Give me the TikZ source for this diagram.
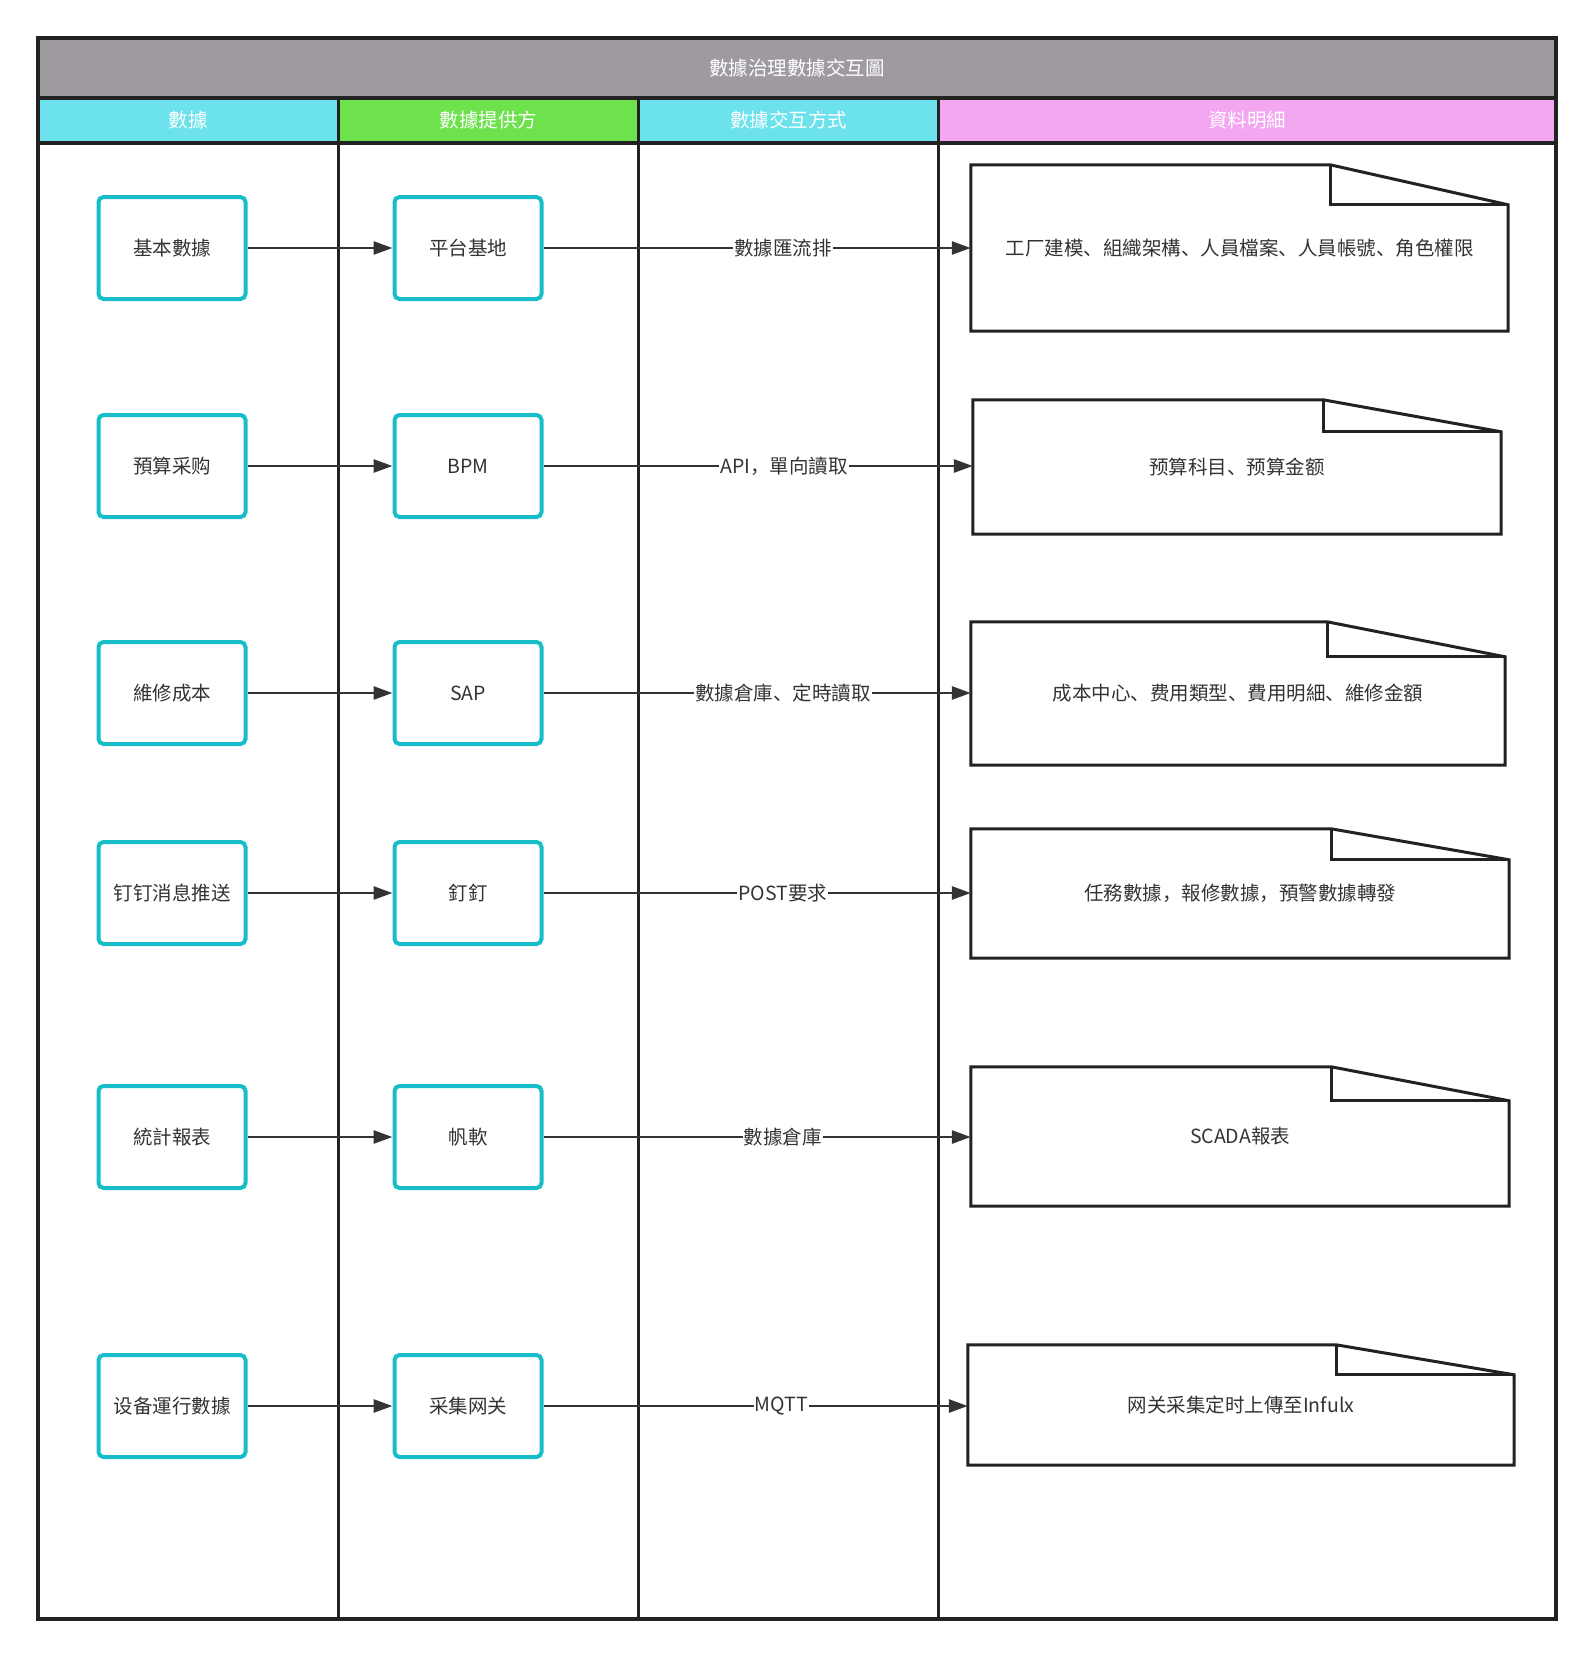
\documentclass[tikz,border=0pt]{standalone}
\usepackage{fontspec}
\setmainfont{Noto Sans CJK SC}
\usetikzlibrary{arrows.meta, calc}
\definecolor{laneTitle}{RGB}{158,154,160}
\definecolor{laneCyan}{RGB}{108,226,236}
\definecolor{laneGreen}{RGB}{109,226,77}
\definecolor{lanePink}{RGB}{242,167,240}
\definecolor{boxCyan}{RGB}{23,189,201}
\definecolor{inkD}{RGB}{51,51,51}
\definecolor{frameD}{RGB}{34,34,34}
\newcommand{\lanefont}{\fontsize{19.5}{23}\selectfont}
\tikzset{databox/.style={draw=boxCyan, line width=4pt, rounded corners=5pt, fill=white,
    minimum width=147, minimum height=102, text=inkD, font=\lanefont},
  docnote/.style={minimum width=#1, inner sep=0pt, text=inkD, font=\lanefont},
  docline/.style={draw=frameD, line width=3pt, line join=miter},
  flow/.style={draw=inkD, line width=2.8pt, -{Triangle[length=19pt, width=13pt]}},
  linklabel/.style={fill=white, inner sep=1pt, text=inkD, font=\lanefont},
  hdrtext/.style={text=white, font=\lanefont}}

\begin{document}
\begin{tikzpicture}[x=1pt, y=-1pt]
\useasboundingbox (0,0) rectangle (1594,1657);
% title band and lane headers
\fill[laneTitle] (38,38) rectangle (1556,98);
\node[hdrtext] (title) at (797,68) {數據治理數據交互圖};
\foreach \xa/\xb/\col/\txt/\nm in {38/338/laneCyan/數據/hA, 338/638.5/laneGreen/數據提供方/hB,
    638.5/938.6/laneCyan/數據交互方式/hC, 938.6/1556/lanePink/資料明細/hD} {
  \fill[\col] (\xa,98) rectangle (\xb,143);
  \node[hdrtext] (\nm) at ({(\xa+\xb)/2},120.5) {\txt};
}
% lane frame
\draw[frameD, line width=3.5pt] (38,38) rectangle (1556,1619);
\draw[frameD, line width=3.5pt] (38,98) -- (1556,98);
\draw[frameD, line width=3.5pt] (38,143) -- (1556,143);
\foreach \x in {338, 638.5, 938.6}
  \draw[frameD, line width=3pt] (\x,98) -- (\x,1619);
% data and providers, one row each
\foreach \i/\y/\src/\prov in {1/248/基本數據/平台基地, 2/466/預算采购/BPM, 3/693/維修成本/SAP,
    4/893/钉钉消息推送/釘釘, 5/1137/統計報表/帆軟, 6/1406/设备運行數據/采集网关} {
  \node[databox] (s\i) at (172,\y) {\src};
  \node[databox] (p\i) at (468,\y) {\prov};
}
% detail notes: centre x / centre y / width / height / fold depth
\foreach \i/\x/\y/\w/\h/\fd/\txt in {
    1/1239.5/248/537/166/40/工厂建模、組織架構、人員檔案、人員帳號、角色權限,
    2/1237/467/528/134/32/预算科目、预算金额,
    3/1238/693.5/534/143/35/成本中心、费用類型、費用明細、維修金額,
    4/1240/893.5/538/129/31/任務數據，報修數據，預警數據轉發,
    5/1240/1136.5/538/139/34/SCADA報表,
    6/1241/1405/546/120/30/网关采集定时上傳至Infulx} {
  \node[docnote=\w, minimum height=\h] (d\i) at (\x,\y) {\txt};
  \draw[docline] (d\i.north west) -- ($(d\i.north east)+(-178,0)$) coordinate (f\i)
    -- ($(d\i.north east)+(0,\fd)$) -- (d\i.south east) -- (d\i.south west) -- cycle;
  \draw[docline] (f\i) -- ($(f\i)+(0,\fd)$) -- ($(d\i.north east)+(0,\fd)$);
}
% connectors
\foreach \i in {1,...,6}
  \draw[flow] (s\i.east) -- (p\i.west);
\foreach \i/\lab in {1/數據匯流排, 2/API，單向讀取, 3/數據倉庫、定時讀取, 4/POST要求, 5/數據倉庫, 6/MQTT}
  \draw[flow] (p\i.east) -- (d\i.west |- p\i.east) node[linklabel, pos=0.56] {\lab};
\end{tikzpicture}
\end{document}
